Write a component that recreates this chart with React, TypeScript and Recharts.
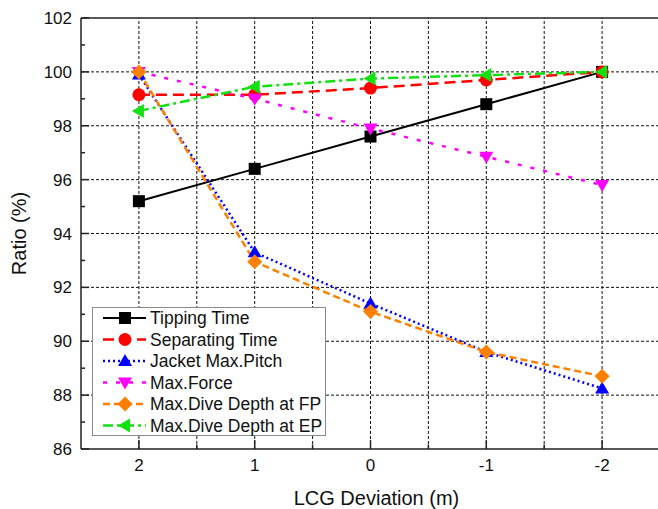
import React from 'react';
import { LineChart, Line, XAxis, YAxis, ReferenceLine, Legend } from 'recharts';

const xValues = [2, 1, 0, -1, -2];
const tippingTime = [95.2, 96.4, 97.6, 98.8, 100];
const separatingTime = [99.15, 99.15, 99.4, 99.7, 100];
const jacketMaxPitch = [99.9, 93.3, 91.4, 89.6, 88.25];
const maxForce = [100, 99.0, 97.9, 96.85, 95.8];
const diveDepthFP = [100, 92.95, 91.1, 89.6, 88.7];
const diveDepthEP = [98.55, 99.45, 99.75, 99.88, 100];

const xTicks = [2, 1, 0, -1, -2];
const yTicks = [86, 88, 90, 92, 94, 96, 98, 100, 102];
const xGrid = [2, 1.5, 1, 0.5, 0, -0.5, -1, -1.5, -2];
const yGrid = [88, 90, 92, 94, 96, 98, 100];
const xMinor = [1.5, 0.5, -0.5, -1.5];
const yMinor = [87, 89, 91, 93, 95, 97, 99, 101];

const data = xValues.map((x, i) => ({
  x,
  tt: tippingTime[i],
  st: separatingTime[i],
  jp: jacketMaxPitch[i],
  mf: maxForce[i],
  fp: diveDepthFP[i],
  ep: diveDepthEP[i],
}));

type Shape = 'square' | 'circle' | 'up' | 'down' | 'diamond' | 'left';

const series: { key: string; name: string; color: string; dash?: string; width: number; shape: Shape }[] = [
  { key: 'tt', name: 'Tipping Time', color: '#000000', width: 2, shape: 'square' },
  { key: 'st', name: 'Separating Time', color: '#ff0000', dash: '11 6', width: 2.5, shape: 'circle' },
  { key: 'jp', name: 'Jacket Max.Pitch', color: '#0000ff', dash: '2 3', width: 2.5, shape: 'up' },
  { key: 'mf', name: 'Max.Force', color: '#ff00ff', dash: '4 9', width: 2.5, shape: 'down' },
  { key: 'fp', name: 'Max.Dive Depth at FP', color: '#ff8000', dash: '7 4', width: 2.5, shape: 'diamond' },
  { key: 'ep', name: 'Max.Dive Depth at EP', color: '#11e011', dash: '10 4 3 4', width: 2.5, shape: 'left' },
];

const drawOrder = ['tt', 'st', 'mf', 'jp', 'fp', 'ep'];

function marker(shape: Shape, cx: number, cy: number, color: string, key?: string | number) {
  switch (shape) {
    case 'square':
      return <rect key={key} x={cx - 6} y={cy - 6} width={12} height={12} fill={color} />;
    case 'circle':
      return <circle key={key} cx={cx} cy={cy} r={6.5} fill={color} />;
    case 'up':
      return <polygon key={key} points={`${cx},${cy - 7} ${cx - 7},${cy + 5} ${cx + 7},${cy + 5}`} fill={color} />;
    case 'down':
      return <polygon key={key} points={`${cx},${cy + 7} ${cx - 7},${cy - 5} ${cx + 7},${cy - 5}`} fill={color} />;
    case 'diamond':
      return <polygon key={key} points={`${cx},${cy - 7.5} ${cx + 7.5},${cy} ${cx},${cy + 7.5} ${cx - 7.5},${cy}`} fill={color} />;
    case 'left':
      return <polygon key={key} points={`${cx - 7},${cy} ${cx + 5},${cy - 7} ${cx + 5},${cy + 7}`} fill={color} />;
  }
}

const LegendBox = () => (
  <svg width={234} height={129} style={{ display: 'block' }}>
    <rect x={0.5} y={0.5} width={233} height={128} fill="#ffffff" stroke="#8a8a8a" strokeWidth={1} />
    {series.map((s, i) => {
      const cy = 11 + i * 21.5;
      return (
        <g key={s.key}>
          <line x1={11} x2={54} y1={cy} y2={cy} stroke={s.color} strokeWidth={s.width} strokeDasharray={s.dash} />
          {marker(s.shape, 33, cy, s.color)}
          <text x={58} y={cy + 6} fontSize={17.5} fill="#111" fontFamily="'Liberation Sans', Arial, sans-serif">
            {s.name}
          </text>
        </g>
      );
    })}
  </svg>
);

export default function App() {
  return (
    <div style={{ position: 'absolute', left: 0, top: 0, width: 658, height: 509, overflow: 'hidden', background: '#fff', fontFamily: "'Liberation Sans', Arial, sans-serif" }}>
      <LineChart width={660} height={509} data={data} margin={{ top: 18, right: 0, left: 0, bottom: 0 }}>
        <XAxis
          dataKey="x"
          type="number"
          domain={[-2.5, 2.5]}
          reversed
          ticks={xTicks}
          allowDataOverflow
          height={60}
          tickLine={false}
          tickSize={6}
          tickMargin={4}
          axisLine={{ stroke: '#222', strokeWidth: 1.5 }}
          tick={{ fontSize: 17, fill: '#111' }}
          label={({ viewBox }: any) => (
            <text x={viewBox.x + viewBox.width / 2 + 6} y={505} textAnchor="middle" fontSize={20} fill="#111">
              LCG Deviation (m)
            </text>
          )}
        />
        <YAxis
          type="number"
          domain={[86, 102]}
          ticks={yTicks}
          width={81}
          allowDataOverflow
          tickLine={false}
          tickSize={6}
          tickMargin={3}
          axisLine={{ stroke: '#222', strokeWidth: 1.5 }}
          tick={{ fontSize: 17, fill: '#111' }}
          label={({ viewBox }: any) => {
            const cy = viewBox.y + viewBox.height / 2;
            return (
              <text x={26} y={cy} transform={`rotate(-90, 26, ${cy})`} textAnchor="middle" fontSize={20} fill="#111">
                Ratio (%)
              </text>
            );
          }}
        />
        {xGrid.map((v) => (
          <ReferenceLine key={'gx' + v} x={v} stroke="#111" strokeWidth={1} strokeDasharray="3 2" />
        ))}
        {yGrid.map((v) => (
          <ReferenceLine key={'gy' + v} y={v} stroke="#111" strokeWidth={1} strokeDasharray="3 2" />
        ))}
        <ReferenceLine y={102} stroke="#222" strokeWidth={1.5} />
        {xTicks.map((v) => (
          <ReferenceLine key={'tx' + v} segment={[{ x: v, y: 86 }, { x: v, y: 86.33 }]} stroke="#222" strokeWidth={1.5} />
        ))}
        {xMinor.map((v) => (
          <ReferenceLine key={'mx' + v} segment={[{ x: v, y: 86 }, { x: v, y: 86.17 }]} stroke="#222" strokeWidth={1.5} />
        ))}
        {yTicks.map((v) => (
          <ReferenceLine key={'ty' + v} segment={[{ x: 2.5, y: v }, { x: 2.43, y: v }]} stroke="#222" strokeWidth={1.5} />
        ))}
        {yMinor.map((v) => (
          <ReferenceLine key={'my' + v} segment={[{ x: 2.5, y: v }, { x: 2.465, y: v }]} stroke="#222" strokeWidth={1.5} />
        ))}
        {drawOrder.map((k) => {
          const s = series.find((q) => q.key === k)!;
          return (
            <Line
              key={s.key}
              dataKey={s.key}
              name={s.name}
              type="linear"
              stroke={s.color}
              strokeWidth={s.width}
              strokeDasharray={s.dash}
              isAnimationActive={false}
              dot={(p: any) => marker(s.shape, p.cx, p.cy, s.color, s.key + p.index)}
              activeDot={false}
            />
          );
        })}
        <Legend
          layout="horizontal"
          verticalAlign="middle"
          align="center"
          content={() => <LegendBox />}
          wrapperStyle={{ left: 92, top: 307, width: 234, height: 129 }}
        />
      </LineChart>
    </div>
  );
}
